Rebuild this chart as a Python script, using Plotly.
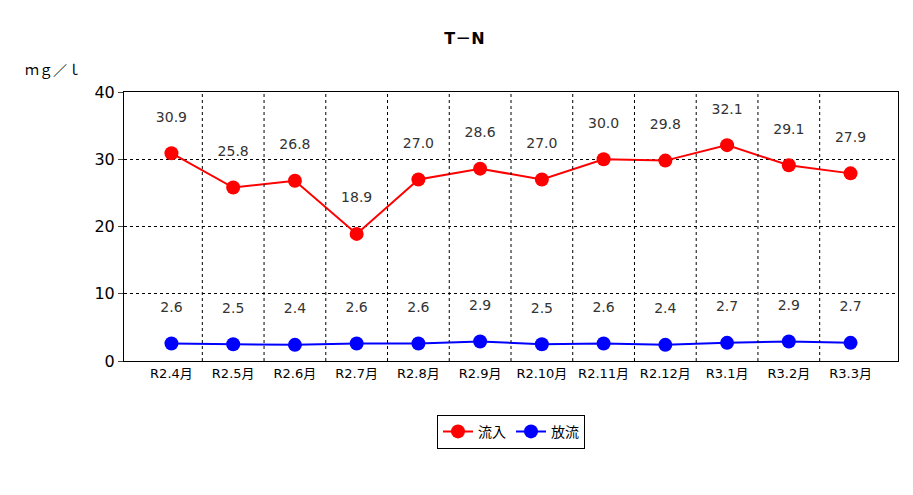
import plotly.graph_objects as go

months = ["R2.4月", "R2.5月", "R2.6月", "R2.7月", "R2.8月", "R2.9月",
          "R2.10月", "R2.11月", "R2.12月", "R3.1月", "R3.2月", "R3.3月"]
inflow = [30.9, 25.8, 26.8, 18.9, 27.0, 28.6, 27.0, 30.0, 29.8, 32.1, 29.1, 27.9]
outflow = [2.6, 2.5, 2.4, 2.6, 2.6, 2.9, 2.5, 2.6, 2.4, 2.7, 2.9, 2.7]

font = "DejaVu Sans, Noto Sans CJK JP"
fig = go.Figure()
for name, vals, col in [("流入", inflow, "#ff0000"), ("放流", outflow, "#0000ff")]:
    fig.add_trace(go.Scatter(
        x=months, y=vals, name=name, mode="lines+markers+text",
        line=dict(color=col, width=2), marker=dict(size=14, color=col),
        text=[f"{v:.1f}<br><span style='font-size:8px'> </span>" for v in vals],
        textposition="top center", textfont=dict(size=14, color="#333")))

fig.update_layout(
    width=913, height=495, plot_bgcolor="white", paper_bgcolor="white",
    font=dict(family=font, size=13, color="black"),
    title=dict(text="<b>T－N</b>", x=0.5, y=0.95, xanchor="center", font=dict(size=16)),
    margin=dict(l=116, r=23, t=84, b=142),
    legend=dict(orientation="h", x=0.5, xanchor="center", y=-0.2, yanchor="top",
                bordercolor="black", borderwidth=1, font=dict(size=14)),
    annotations=[dict(text="ｍｇ／ｌ", xref="paper", yref="paper", x=-0.13, y=1.04,
                      xanchor="left", yanchor="bottom", showarrow=False, font=dict(size=14))],
)
fig.update_xaxes(showline=True, linecolor="black", mirror=True, showgrid=False,
                 tickfont=dict(size=13), ticks="")
fig.update_yaxes(range=[0, 40], dtick=10, showline=True, linecolor="black", mirror=True,
                 gridcolor="black", griddash="dot", gridwidth=1, ticks="outside",
                 tickfont=dict(size=16), zeroline=False)
for i in range(1, 12):
    fig.add_vline(x=i - 0.5, line=dict(color="black", width=1, dash="dot"))
fig.write_html("out.html")
